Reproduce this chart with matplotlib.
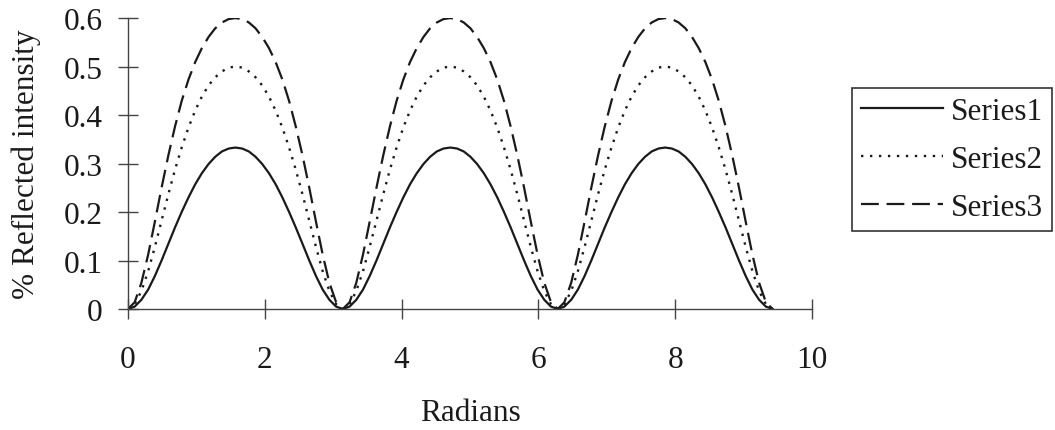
import matplotlib
matplotlib.use("Agg")
import matplotlib.pyplot as plt

plt.rcParams['font.family'] = ['Liberation Serif', 'DejaVu Serif']

# phase in radians, sampled every pi/32 over three periods
radians = [0.000, 0.098, 0.196, 0.295, 0.393, 0.491, 0.589, 0.687, 0.785,
           0.884, 0.982, 1.080, 1.178, 1.276, 1.374, 1.473, 1.571,
           1.669, 1.767, 1.865, 1.963, 2.062, 2.160, 2.258, 2.356,
           2.454, 2.553, 2.651, 2.749, 2.847, 2.945, 3.043, 3.142,
           3.240, 3.338, 3.436, 3.534, 3.633, 3.731, 3.829, 3.927,
           4.025, 4.123, 4.222, 4.320, 4.418, 4.516, 4.614, 4.712,
           4.811, 4.909, 5.007, 5.105, 5.203, 5.301, 5.400, 5.498,
           5.596, 5.694, 5.792, 5.890, 5.989, 6.087, 6.185, 6.283,
           6.381, 6.480, 6.578, 6.676, 6.774, 6.872, 6.970, 7.069,
           7.167, 7.265, 7.363, 7.461, 7.560, 7.658, 7.756, 7.854,
           7.952, 8.050, 8.149, 8.247, 8.345, 8.443, 8.541, 8.639,
           8.738, 8.836, 8.934, 9.032, 9.130, 9.228, 9.327, 9.425]

series1 = [0.000, 0.005, 0.019, 0.040, 0.068, 0.100, 0.134, 0.168, 0.200,
           0.230, 0.257, 0.280, 0.299, 0.314, 0.325, 0.331, 0.333,
           0.331, 0.325, 0.314, 0.299, 0.280, 0.257, 0.230, 0.200,
           0.168, 0.134, 0.100, 0.068, 0.040, 0.019, 0.005, 0.000,
           0.005, 0.019, 0.040, 0.068, 0.100, 0.134, 0.168, 0.200,
           0.230, 0.257, 0.280, 0.299, 0.314, 0.325, 0.331, 0.333,
           0.331, 0.325, 0.314, 0.299, 0.280, 0.257, 0.230, 0.200,
           0.168, 0.134, 0.100, 0.068, 0.040, 0.019, 0.005, 0.000,
           0.005, 0.019, 0.040, 0.068, 0.100, 0.134, 0.168, 0.200,
           0.230, 0.257, 0.280, 0.299, 0.314, 0.325, 0.331, 0.333,
           0.331, 0.325, 0.314, 0.299, 0.280, 0.257, 0.230, 0.200,
           0.168, 0.134, 0.100, 0.068, 0.040, 0.019, 0.005, 0.000]

series2 = [0.000, 0.010, 0.037, 0.078, 0.128, 0.182, 0.236, 0.287, 0.333,
           0.374, 0.409, 0.438, 0.461, 0.478, 0.490, 0.498, 0.500,
           0.498, 0.490, 0.478, 0.461, 0.438, 0.409, 0.374, 0.333,
           0.287, 0.236, 0.182, 0.128, 0.078, 0.037, 0.010, 0.000,
           0.010, 0.037, 0.078, 0.128, 0.182, 0.236, 0.287, 0.333,
           0.374, 0.409, 0.438, 0.461, 0.478, 0.490, 0.498, 0.500,
           0.498, 0.490, 0.478, 0.461, 0.438, 0.409, 0.374, 0.333,
           0.287, 0.236, 0.182, 0.128, 0.078, 0.037, 0.010, 0.000,
           0.010, 0.037, 0.078, 0.128, 0.182, 0.236, 0.287, 0.333,
           0.374, 0.409, 0.438, 0.461, 0.478, 0.490, 0.498, 0.500,
           0.498, 0.490, 0.478, 0.461, 0.438, 0.409, 0.374, 0.333,
           0.287, 0.236, 0.182, 0.128, 0.078, 0.037, 0.010, 0.000]

series3 = [0.000, 0.014, 0.054, 0.112, 0.180, 0.250, 0.316, 0.376, 0.429,
           0.473, 0.509, 0.538, 0.561, 0.579, 0.591, 0.598, 0.600,
           0.598, 0.591, 0.579, 0.561, 0.538, 0.509, 0.473, 0.429,
           0.376, 0.316, 0.250, 0.180, 0.112, 0.054, 0.014, 0.000,
           0.014, 0.054, 0.112, 0.180, 0.250, 0.316, 0.376, 0.429,
           0.473, 0.509, 0.538, 0.561, 0.579, 0.591, 0.598, 0.600,
           0.598, 0.591, 0.579, 0.561, 0.538, 0.509, 0.473, 0.429,
           0.376, 0.316, 0.250, 0.180, 0.112, 0.054, 0.014, 0.000,
           0.014, 0.054, 0.112, 0.180, 0.250, 0.316, 0.376, 0.429,
           0.473, 0.509, 0.538, 0.561, 0.579, 0.591, 0.598, 0.600,
           0.598, 0.591, 0.579, 0.561, 0.538, 0.509, 0.473, 0.429,
           0.376, 0.316, 0.250, 0.180, 0.112, 0.054, 0.014, 0.000]

x_ticks = [0, 2, 4, 6, 8, 10]
y_ticks = [0, 0.1, 0.2, 0.3, 0.4, 0.5, 0.6]
y_tick_labels = ['0', '0.1', '0.2', '0.3', '0.4', '0.5', '0.6']

fig = plt.figure(figsize=(10.55, 4.31), dpi=100)
ax = fig.add_axes([0.1213, 0.2807, 0.6483, 0.675])

ink = '#1a1a1a'
fs = 22.5
ax.plot(radians, series1, color=ink, linewidth=1.6, label='Series1')
ax.plot(radians, series2, color=ink, linewidth=1.7,
        linestyle=(0, (1.0, 2.8)), label='Series2')
ax.plot(radians, series3, color=ink, linewidth=1.6,
        linestyle=(0, (8, 3.5)), label='Series3')

ax.set_xlim(0, 10)
ax.set_ylim(0, 0.6)
ax.set_xticks(x_ticks)
ax.set_yticks(y_ticks)
ax.set_yticklabels(y_tick_labels)

for side in ('top', 'right'):
    ax.spines[side].set_visible(False)
for side in ('left', 'bottom'):
    ax.spines[side].set_color('#444444')
    ax.spines[side].set_linewidth(1.0)

ax.tick_params(axis='both', direction='inout', length=14.4, width=1.0,
               color='#444444', labelsize=fs, labelcolor=ink)
ax.tick_params(axis='x', pad=19)
ax.tick_params(axis='y', pad=11)

ax.set_xlabel('Radians', fontsize=fs, color=ink, labelpad=17)
ax.set_ylabel('% Reflected intensity', fontsize=fs, color=ink, labelpad=16)

leg = ax.legend(loc='upper left', bbox_to_anchor=(852 / 1055, 1 - 89 / 431),
                bbox_transform=fig.transFigure, fontsize=fs,
                frameon=True, fancybox=False, framealpha=1,
                handlelength=2.6, handletextpad=0.25, labelspacing=0.6,
                borderpad=0.3, borderaxespad=0)
leg.get_frame().set_edgecolor('#333333')
leg.get_frame().set_linewidth(1.2)
for text in leg.get_texts():
    text.set_color(ink)

fig.savefig('out.png', dpi=100)
